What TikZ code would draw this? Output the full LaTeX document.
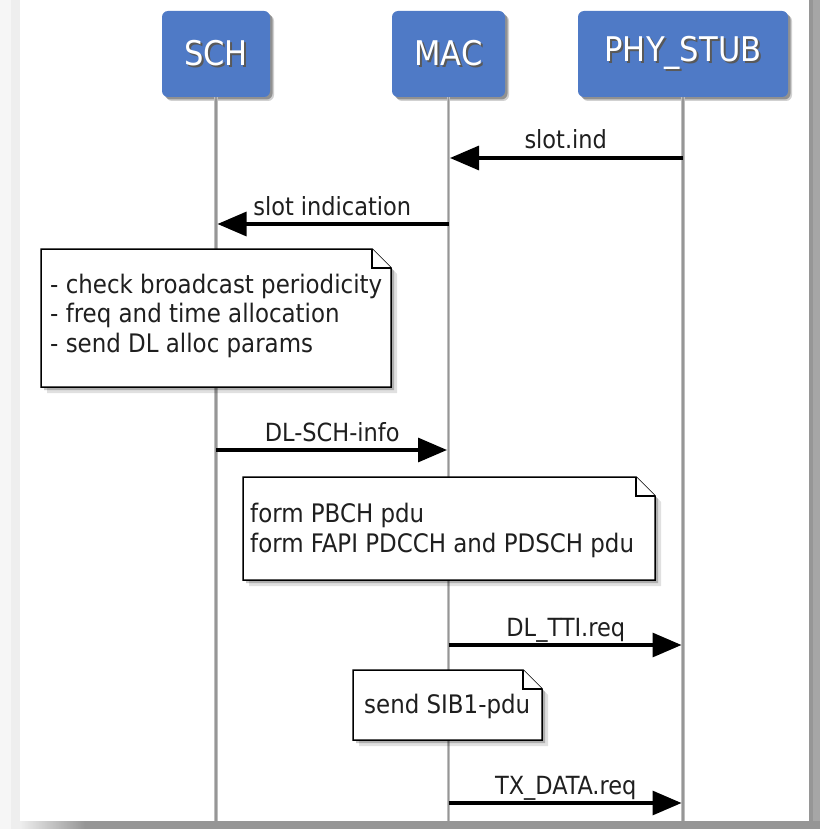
\documentclass[tikz,border=0pt]{standalone}
\usepackage{fontspec}
\setmainfont{DejaVu Sans Condensed}
\usetikzlibrary{arrows.meta,shadows}

\definecolor{boxblue}{RGB}{79,122,198}
\definecolor{lifegray}{RGB}{150,150,150}
\definecolor{lifeedge}{RGB}{190,190,190}
\definecolor{pageside}{RGB}{246,246,246}
\definecolor{pagestrip}{RGB}{238,238,238}
\definecolor{pageshadow}{RGB}{150,150,150}

% white caption with a dark offset copy behind it
\newcommand\shadowedcaption[1]{%
  \raisebox{-4pt}{\makebox[0pt][l]{\raisebox{-2pt}{\kern2pt\textcolor{black!65}{#1}}}#1}}

% note with a folded top-right corner: left, top, right, bottom
\newcommand\dognote[4]{%
  \fill[black,opacity=.12] (#1+6,#2+6) -- (#3+6-19,#2+6) -- (#3+6,#2+6+19)
      -- (#3+6,#4+6) -- (#1+6,#4+6) -- cycle;
  \fill[black,opacity=.22] (#1+3,#2+3) -- (#3+3-19,#2+3) -- (#3+3,#2+3+19)
      -- (#3+3,#4+3) -- (#1+3,#4+3) -- cycle;
  \draw[noteline] (#1,#2) -- (#3-19,#2) -- (#3,#2+19) -- (#3,#4) -- (#1,#4) -- cycle;
  \draw[noteline,line join=miter] (#3-19,#2) -- (#3-19,#2+19) -- (#3,#2+19);
}

\begin{document}
\begin{tikzpicture}[x=1pt,y=-1pt,
  actor/.style={rounded corners=6pt, fill=boxblue, inner sep=0pt,
    minimum height=86pt, text=white,
    font=\fontsize{34}{40}\selectfont,
    drop shadow={shadow xshift=4pt, shadow yshift=-4pt, opacity=.18, fill=black},
    drop shadow={shadow xshift=2.5pt, shadow yshift=-2.5pt, opacity=.3, fill=black}},
  lifeline/.style={line width=3.6pt, lifeedge},
  lifecore/.style={line width=1.6pt, lifegray},
  noteline/.style={draw=black, fill=white, line width=1.5pt},
  notetext/.style={anchor=base west, align=left, inner sep=0pt,
    font=\fontsize{25.5}{29.3}\selectfont, text=black!88},
  msg/.style={line width=3.2pt, black, shorten >=1.5pt,
    -{Triangle[length=29pt,width=24pt]}},
  lbl/.style={anchor=base, inner sep=0pt, yshift=9pt,
    font=\fontsize{25}{30}\selectfont, text=black!88}]

\useasboundingbox (0,0) rectangle (820,829);

% page with its shadow
\fill[pageside] (0,0) rectangle (820,829);
\fill[pagestrip] (11,0) rectangle (20,829);
\fill[pageshadow!85] (809,0) rectangle (820,829);
\fill[pageshadow] (809,0) rectangle (813,829);
\shade[left color=pagestrip, right color=pageshadow] (20,821) rectangle (85,829);
\fill[pageshadow] (85,821) rectangle (820,829);
\fill[white] (20,0) rectangle (809,821);

% participants
\node[actor, minimum width=108pt] (sch) at (216,54) {\shadowedcaption{SCH}};
\node[actor, minimum width=113pt] (mac) at (448.5,54) {\shadowedcaption{MAC}};
\node[actor, minimum width=210pt] (phy) at (683,54) {\shadowedcaption{PHY\_STUB}};

% lifelines
\coordinate (schend) at (sch.south |- 0,821);
\coordinate (macend) at (mac.south |- 0,821);
\coordinate (phyend) at (phy.south |- 0,821);
\foreach \who in {sch,mac,phy}{
  \draw[lifeline] (\who.south) -- (\who end);
  \draw[lifecore] (\who.south) -- (\who end);
}

% messages
\draw[msg] (phy.south |- 0,158) -- node[lbl] (m1) {slot.ind} (mac.south |- 0,158);
\draw[msg] (mac.south |- 0,224) -- node[lbl] (m2) {slot indication} (sch.south |- 0,224);

\dognote{41}{249}{391}{387}
\node[notetext] (n1) at (50,352) {- check broadcast periodicity\\- freq and time allocation\\- send DL alloc params};

\draw[msg] (sch.south |- 0,450) -- node[lbl] (m3) {DL-SCH-info} (mac.south |- 0,450);

\dognote{243}{477}{655}{580}
\node[notetext] (n2) at (250,552) {form PBCH pdu\\form FAPI PDCCH and PDSCH pdu};

\draw[msg] (mac.south |- 0,645) -- node[lbl] (m4) {DL\_TTI.req} (phy.south |- 0,645);

\dognote{353}{670}{542}{740}
\node[notetext] (n3) at (364,713) {send SIB1-pdu};

\draw[msg] (mac.south |- 0,803) -- node[lbl] (m5) {TX\_DATA.req} (phy.south |- 0,803);
\end{tikzpicture}
\end{document}
